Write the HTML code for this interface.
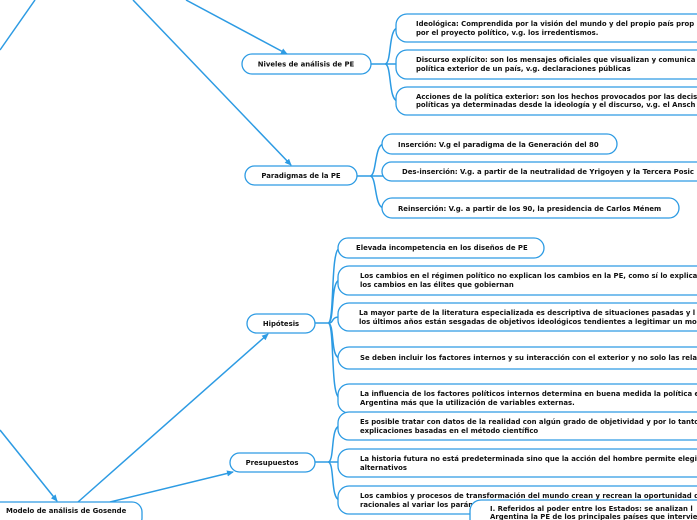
<!DOCTYPE html>
<html><head><meta charset="utf-8"><style>
html,body{margin:0;padding:0;background:#fff;width:697px;height:520px;overflow:hidden}
svg{display:block}
text{font-family:"DejaVu Sans","Liberation Sans",sans-serif;font-weight:bold;font-size:6.9px;fill:#111}
.b{fill:#fff;stroke:#2d9be3;stroke-width:1.3}
.l{fill:none;stroke:#2d9be3;stroke-width:1.5}
</style></head><body>
<svg width="697" height="520" viewBox="0 0 697 520" xmlns="http://www.w3.org/2000/svg">
<defs><marker id="a" markerWidth="8" markerHeight="8" refX="6" refY="3" orient="auto" markerUnits="userSpaceOnUse"><path d="M0,0 L7,3 L0,6z" fill="#2d9be3"/></marker></defs>
<path class="l" d="M35,0 L0,50"/>
<path class="l" d="M133,0 L291,165" marker-end="url(#a)"/>
<path class="l" d="M186,0 L287,54" marker-end="url(#a)"/>
<path class="l" d="M0,430 L57,501" marker-end="url(#a)"/>
<path class="l" d="M78,502 L268,334" marker-end="url(#a)"/>
<path class="l" d="M110,502 L233,472" marker-end="url(#a)"/>
<g class="l">
<path d="M371,64 H385 M385,64 C392,64 388,28 398,28 M385,64 H398 M385,64 C392,64 388,101 398,101"/>
<path d="M357,176 H370 M370,176 C377,176 374,144 384,144 M370,176 H384 M370,176 C377,176 374,208 384,208"/>
<path d="M315,323 H328 M328,323 C335,323 330,248 340,248 M328,323 C335,323 330,280 340,280 M328,323 C335,323 330,317 340,317 M328,323 C335,323 330,358 340,358 M328,323 C335,323 330,398 340,398"/>
<path d="M315,462 H328 M328,462 C335,462 330,426 340,426 M328,462 H340 M328,462 C335,462 330,500 340,500"/>
</g>
<rect class="b" x="242" y="54" width="129" height="20" rx="10"/><text x="306" y="66.5" text-anchor="middle">Niveles de análisis de PE</text>
<rect class="b" x="245" y="166" width="112" height="19" rx="9.5"/><text x="301" y="178" text-anchor="middle">Paradigmas de la PE</text>
<rect class="b" x="247" y="314" width="68" height="19" rx="9.5"/><text x="281" y="326" text-anchor="middle">Hipótesis</text>
<rect class="b" x="230" y="453" width="85" height="19" rx="9.5"/><text x="272" y="465" text-anchor="middle">Presupuestos</text>
<rect class="b" x="-20" y="502" width="162" height="26" rx="10"/><text x="6" y="513">Modelo de análisis de Gosende</text>

<rect class="b" x="396" y="14" width="320" height="28" rx="11"/>
<text x="416" y="26">Ideológica: Comprendida por la visión del mundo y del propio país prop</text>
<text x="416" y="35">por el proyecto político, v.g. los irredentismos.</text>
<rect class="b" x="396" y="50" width="320" height="29" rx="11"/>
<text x="416" y="62">Discurso explícito: son los mensajes oficiales que visualizan y comunica</text>
<text x="416" y="71">política exterior de un país, v.g. declaraciones públicas</text>
<rect class="b" x="396" y="87" width="320" height="28" rx="11"/>
<text x="416" y="99">Acciones de la política exterior: son los hechos provocados por las decis</text>
<text x="416" y="107">políticas ya determinadas desde la ideología y el discurso, v.g. el Ansch</text>

<rect class="b" x="382" y="134" width="235" height="20" rx="10"/><text x="398" y="147">Inserción: V.g el paradigma de la Generación del 80</text>
<rect class="b" x="382" y="162" width="330" height="19" rx="9.5"/><text x="402" y="174">Des-inserción: V.g. a partir de la neutralidad de Yrigoyen y la Tercera Posic</text>
<rect class="b" x="382" y="198" width="297" height="20" rx="10"/><text x="398" y="211">Reinserción: V.g. a partir de los 90, la presidencia de Carlos Ménem</text>

<rect class="b" x="338" y="238" width="206" height="20" rx="10"/><text x="356" y="250">Elevada incompetencia en los diseños de PE</text>
<rect class="b" x="338" y="266" width="370" height="29" rx="11"/>
<text x="360" y="278">Los cambios en el régimen político no explican los cambios en la PE, como sí lo explica</text>
<text x="360" y="287">los cambios en las élites que gobiernan</text>
<rect class="b" x="338" y="303" width="370" height="28" rx="11"/>
<text x="359" y="315">La mayor parte de la literatura especializada es descriptiva de situaciones pasadas y l</text>
<text x="359" y="324">los últimos años están sesgadas de objetivos ideológicos tendientes a legitimar un mo</text>
<rect class="b" x="338" y="347" width="370" height="22" rx="11"/>
<text x="360" y="360">Se deben incluir los factores internos y su interacción con el exterior y no solo las rela</text>
<rect class="b" x="338" y="384" width="370" height="29" rx="11"/>
<text x="360" y="396">La influencia de los factores políticos internos determina en buena medida la política e</text>
<text x="360" y="405">Argentina más que la utilización de variables externas.</text>
<rect class="b" x="338" y="412" width="370" height="28" rx="11"/>
<text x="360" y="424">Es posible tratar con datos de la realidad con algún grado de objetividad y por lo tanto</text>
<text x="360" y="433">explicaciones basadas en el método científico</text>
<rect class="b" x="338" y="449" width="370" height="28" rx="11"/>
<text x="360" y="461">La historia futura no está predeterminada sino que la acción del hombre permite elegi</text>
<text x="360" y="470">alternativos</text>
<rect class="b" x="338" y="486" width="370" height="28" rx="11"/>
<text x="360" y="498">Los cambios y procesos de transformación del mundo crean y recrean la oportunidad d</text>
<text x="360" y="507">racionales al variar los parám</text>
<rect class="b" x="470" y="500" width="240" height="30" rx="11"/>
<text x="490" y="511">I. Referidos al poder entre los Estados:  se analizan l</text>
<text x="490" y="519">Argentina la PE de los principales países que intervie</text>
</svg>
</body></html>
